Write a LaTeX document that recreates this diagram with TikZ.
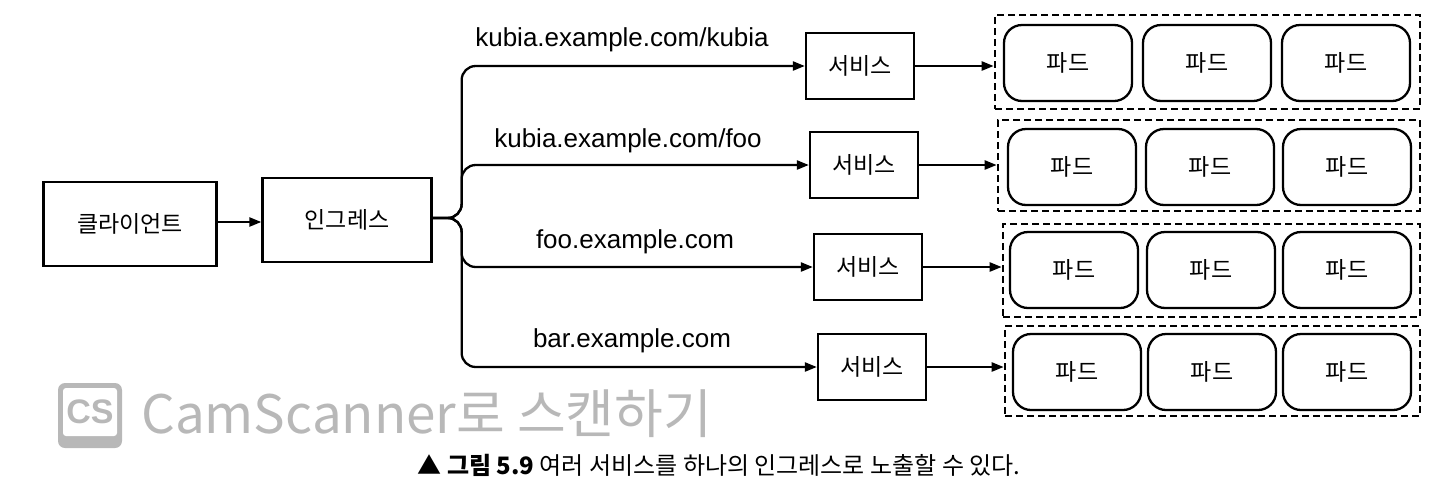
\documentclass[tikz,border=0pt]{standalone}
\usepackage{fontspec}
\setmainfont{Liberation Sans}
\newfontfamily\kr{Noto Sans CJK KR}
\usetikzlibrary{arrows.meta,positioning}
\tikzset{
  box/.style={draw,line width=2.3pt,minimum width=#1,inner sep=0pt,font=\kr\fontsize{23}{26}\selectfont},
  box/.default=170pt,
  svcbox/.style={draw,line width=2.3pt,minimum width=108pt,minimum height=66pt,inner sep=0pt,font=\kr\fontsize{23}{26}\selectfont},
  podbox/.style={draw,line width=2.3pt,rounded corners=18pt,minimum width=128pt,minimum height=76pt,inner sep=0pt,font=\kr\fontsize{23}{26}\selectfont},
  grp/.style={draw,line width=2.6pt,dash pattern=on 7pt off 4pt,inner sep=0pt},
  arr/.style={line width=2.3pt,-{Triangle[length=12pt,width=9pt]}},
  url/.style={font=\fontsize{26}{30}\selectfont,inner sep=0pt},
}
\begin{document}
\begin{tikzpicture}[x=1pt,y=-1pt]
\useasboundingbox (0,0) rectangle (1440,499);
% main nodes
\node[box=173pt,minimum height=84pt] (cli) at (130,224) {클라이언트};
\node[box=169pt,minimum height=84pt] (ing) at (347,220) {인그레스};
\draw[arr] (cli.east |- 0,222) coordinate (c1) -- (ing.west |- c1);
% services
\node[svcbox] (s1) at (860,66) {서비스};
\node[svcbox] (s2) at (864,165) {서비스};
\node[svcbox] (s3) at (868,267) {서비스};
\node[svcbox] (s4) at (872,367) {서비스};
% branches
\coordinate (ie) at (ing.east |- 0,218);
\draw[arr,rounded corners=14pt] (ie) -- ++(29,0) |- (s1.west);
\draw[arr,rounded corners=14pt] (ie) -- ++(29,0) |- (s2.west);
\draw[arr,rounded corners=14pt] (ie) -- ++(29,0) |- (s3.west);
\draw[arr,rounded corners=14pt] (ie) -- ++(29,0) |- (s4.west);
% url labels
\node[url] (u1) at (622,40) {kubia.example.com/kubia};
\node[url] (u2) at (628,141) {kubia.example.com/foo};
\node[url] (u3) at (635,242) {foo.example.com};
\node[url] (u4) at (632,341) {bar.example.com};
% groups
\node[grp,minimum width=425pt,minimum height=94pt] (g1) at (1207.5,62) {};
\node[grp,minimum width=422pt,minimum height=91pt] (g2) at (1209,165.5) {};
\node[grp,minimum width=417pt,minimum height=93pt] (g3) at (1211.5,270.5) {};
\node[grp,minimum width=415pt,minimum height=90pt] (g4) at (1212.5,371) {};
% pods
\node[podbox] (p11) at (1068,63) {파드};
\node[podbox] (p12) at (1207,63) {파드};
\node[podbox] (p13) at (1346,63) {파드};
\node[podbox] (p21) at (1072,167) {파드};
\node[podbox] (p22) at (1210,167) {파드};
\node[podbox] (p23) at (1347,167) {파드};
\node[podbox] (p31) at (1074,270) {파드};
\node[podbox] (p32) at (1211,270) {파드};
\node[podbox] (p33) at (1347,270) {파드};
\node[podbox] (p41) at (1077,372) {파드};
\node[podbox] (p42) at (1212,372) {파드};
\node[podbox] (p43) at (1347,372) {파드};
% service -> group arrows
\draw[arr] (s1.east) -- (g1.west |- s1.east);
\draw[arr] (s2.east) -- (g2.west |- s2.east);
\draw[arr] (s3.east) -- (g3.west |- s3.east);
\draw[arr] (s4.east) -- (g4.west |- s4.east);
% watermark
\definecolor{wm}{gray}{0.72}
\fill[wm,rounded corners=7pt] (58,383) rectangle (122,448);
\fill[white,rounded corners=3pt] (63,388) rectangle (117,436);
\node[text=wm,font=\bfseries\fontsize{34}{36}\selectfont,inner sep=0pt] (cs) at (90,412) {CS};
\node[text=wm,font=\kr\fontsize{53}{60}\selectfont,anchor=west,inner sep=0pt] (wmt) at (141,414) {CamScanner로 스캔하기};
% caption
\node[font=\kr\fontsize{24}{27}\selectfont,inner sep=0pt] (cap) at (719,465) {▲ \textbf{그림 5.9} 여러 서비스를 하나의 인그레스로 노출할 수 있다.};
\end{tikzpicture}
\end{document}
